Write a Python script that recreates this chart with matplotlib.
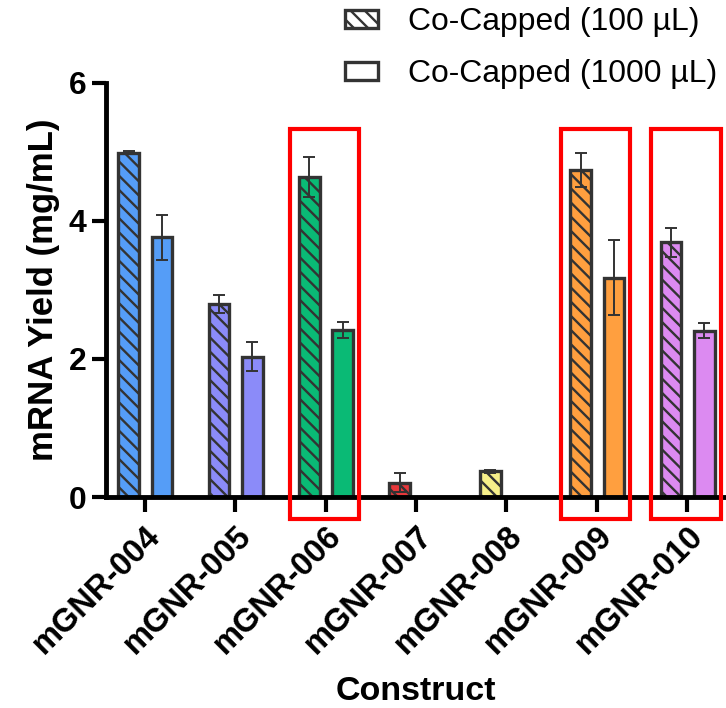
import numpy as np
import matplotlib
matplotlib.use("Agg")
import matplotlib.pyplot as plt
from matplotlib.patches import Rectangle, Patch

DPI = 85
S = 100 / DPI  # sizes below are given as points at 100 dpi

plt.rcParams['font.family'] = ['Liberation Sans', 'DejaVu Sans']
plt.rcParams['hatch.linewidth'] = 1.7 * S

constructs = ["mGNR-004", "mGNR-005", "mGNR-006", "mGNR-007", "mGNR-008", "mGNR-009", "mGNR-010"]
yield_100 = [4.99, 2.80, 4.63, 0.21, 0.37, 4.74, 3.69]
err_100 = [0.02, 0.13, 0.29, 0.14, 0.02, 0.25, 0.21]
yield_1000 = [3.76, 2.03, 2.42, np.nan, np.nan, 3.18, 2.41]
err_1000 = [0.33, 0.21, 0.12, np.nan, np.nan, 0.55, 0.11]
colors = ["#559DF7", "#8B8BF9", "#0ABA75", "#E8383B", "#F7F08A", "#FF9F3F", "#DC8AF1"]
highlighted = ["mGNR-006", "mGNR-009", "mGNR-010"]
legend_labels = ["Co-Capped (100 µL)", "Co-Capped (1000 µL)"]

fig = plt.figure(figsize=(726 / DPI, 708 / DPI), dpi=DPI)
ax = fig.add_axes([0.146, 0.298, 0.853, 0.585])

x = np.arange(len(constructs))
w = 0.23
edge = "#333333"
ax.bar(x - 0.18, yield_100, w, color=colors, edgecolor=edge, linewidth=2.4 * S, hatch='\\\\', zorder=2)
ax.bar(x + 0.19, yield_1000, w, color=colors, edgecolor=edge, linewidth=2.4 * S, zorder=2)
ax.errorbar(x - 0.18, yield_100, yerr=err_100, fmt='none', ecolor=edge, elinewidth=1.4 * S,
            capsize=4.5 * S, capthick=1.4 * S, zorder=3)
ax.errorbar(x + 0.19, yield_1000, yerr=err_1000, fmt='none', ecolor=edge, elinewidth=1.4 * S,
            capsize=4.5 * S, capthick=1.4 * S, zorder=3)

for name in highlighted:
    i = constructs.index(name)
    r = Rectangle((i - 0.40, -0.32), 0.77, 5.65, fill=False, edgecolor="#FF0000", linewidth=3.0 * S,
                  clip_on=False, zorder=5)
    ax.add_patch(r)

ax.set_xlim(-0.43, 6.42)
ax.set_ylim(0, 6)
ax.set_yticks([0, 2, 4, 6])
ax.set_xticks(x)
ax.set_xticklabels(constructs, rotation=45, ha='right', rotation_mode='anchor', fontsize=23.5 * S,
                   fontweight='bold')
for lbl in ax.get_yticklabels():
    lbl.set_fontsize(23 * S)
    lbl.set_fontweight('bold')
ax.tick_params(axis='y', length=10 * S, width=3 * S, pad=4 * S)
ax.tick_params(axis='x', length=11 * S, width=3 * S, pad=6 * S)
for s in ['top', 'right']:
    ax.spines[s].set_visible(False)
for s in ['left', 'bottom']:
    ax.spines[s].set_linewidth(3.5 * S)
ax.set_xlabel("Construct", fontsize=24.5 * S, fontweight='bold', labelpad=11 * S)
ax.set_ylabel("mRNA Yield (mg/mL)", fontsize=25 * S, fontweight='bold', labelpad=6 * S)

handles = [Patch(facecolor='white', edgecolor=edge, linewidth=2.4 * S, hatch='\\\\'),
           Patch(facecolor='white', edgecolor=edge, linewidth=2.4 * S)]
fig.legend(handles, legend_labels, loc='upper left', bbox_to_anchor=(0.475, 0.990), frameon=False,
           fontsize=23 * S, handlelength=1.03, handleheight=0.5, handletextpad=0.95, labelspacing=0.7,
           borderpad=0, borderaxespad=0)

fig.savefig("out.png", dpi=DPI)
